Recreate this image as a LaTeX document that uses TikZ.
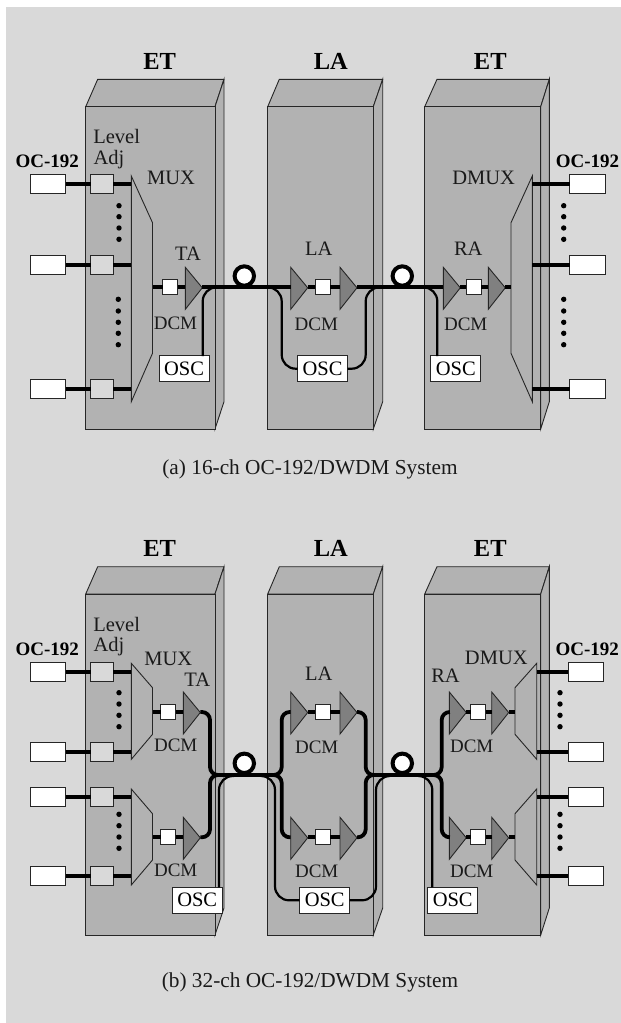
\documentclass[tikz,border=0pt]{standalone}
\usepackage{fontspec}
\setmainfont{Liberation Serif}
\definecolor{bgc}{HTML}{D9D9D9}
\definecolor{boxc}{HTML}{B2B2B2}
\definecolor{ampc}{HTML}{808080}
\definecolor{edgec}{HTML}{262626}
\definecolor{inkc}{HTML}{1A1A1A}
\tikzset{
  outl/.style={draw=edgec,line width=0.9pt,line join=miter},
  cub/.style={outl,fill=boxc},
  ampst/.style={outl,fill=ampc},
  port/.style={outl,fill=white,inner sep=0pt,outer sep=0pt,minimum width=35.4pt,minimum height=19pt},
  lvl/.style={outl,fill=bgc,inner sep=0pt,outer sep=0pt,minimum width=22.6pt,minimum height=19pt},
  dcm/.style={outl,fill=white,inner sep=0pt,outer sep=0pt,minimum width=15pt,minimum height=15pt},
  oscbox/.style={outl,fill=white,inner sep=0pt,outer sep=0pt,minimum width=50pt,minimum height=25.6pt,text=black,font=\fontsize{20.5}{24}\selectfont},
  ringst/.style={circle,draw=black,line width=4pt,fill=white,inner sep=0pt,outer sep=0pt,minimum size=19.4pt},
  sig/.style={line width=3.8pt,draw=black,line cap=butt},
  fib/.style={line width=3.8pt,draw=black,rounded corners=8pt},
  oscl/.style={line width=2.2pt,draw=black,rounded corners=14pt},
  dotst/.style={circle,fill=black,inner sep=0pt,outer sep=0pt,minimum size=5.4pt},
  txt/.style={anchor=base,inner sep=0pt,text=inkc,font=\fontsize{20.5}{24}\selectfont},
  dcmt/.style={anchor=base,inner sep=0pt,text=inkc,font=\fontsize{19}{24}\selectfont},
  head/.style={anchor=base,inner sep=0pt,text=black,font=\bfseries\fontsize{24.5}{28}\selectfont},
  ocl/.style={anchor=base,inner sep=0pt,text=black,font=\bfseries\fontsize{19}{24}\selectfont},
  capt/.style={anchor=base,inner sep=0pt,text=inkc,font=\fontsize{21.3}{26}\selectfont},
}
% name, x-left, y-centre of the triangle; the line runs 1 above the centre
\newcommand{\ampl}[3]{%
  \draw[ampst] (#2,#3-21) -- (#2+17,#3-0.5) -- (#2,#3+21) -- cycle;
  \coordinate (#1-w) at (#2,#3-1);
  \coordinate (#1-e) at (#2+17,#3-1);}
% front left, front right, back left, back right, y back top, y front top, y front bottom, y back bottom
\newcommand{\cuboid}[8]{%
  \draw[cub] (#1,#6) -- (#3,#5) -- (#4,#5) -- (#2,#6) -- cycle;
  \draw[cub] (#2,#6) -- (#4,#5) -- (#4,#8) -- (#2,#7) -- cycle;
  \draw[cub] (#1,#6) rectangle (#2,#7);}
\begin{document}
\begin{tikzpicture}[x=1pt,y=-1pt]
\useasboundingbox (0,0) rectangle (621,1023);
\fill[bgc] (6,7) rectangle (621,1023);

% ========== panel (a) ==========
\cuboid{85.7}{215}{97.7}{224}{79.3}{106.7}{429}{401.7}
\cuboid{267.7}{373.3}{279.3}{382.7}{79.3}{106.7}{429}{401.7}
\cuboid{424.7}{540.7}{437}{549.3}{79.3}{106.7}{429}{401.7}

\node[head] (ah1) at (159.7,69) {ET};
\node[head] (ah2) at (330.8,69) {LA};
\node[head] (ah3) at (490.3,69) {ET};

\node[port] (ap1) at (48,184.2) {};
\node[port] (ap2) at (48,264.7) {};
\node[port] (ap3) at (48,388.8) {};
\node[lvl] (al1) at (102,184.2) {};
\node[lvl] (al2) at (102,264.7) {};
\node[lvl] (al3) at (102,388.8) {};
\draw[outl,fill=boxc] (131.3,176) -- (152.5,222.7) -- (152.5,353.3) -- (131.3,401.7) -- cycle;
\coordinate (am1) at (131.3,184.2);
\coordinate (am2) at (131.3,264.7);
\coordinate (am3) at (131.3,388.8);
\coordinate (amo) at (152.5,287.3);
\foreach \i in {1,2,3} {
  \draw[sig] (ap\i.east) -- (al\i.west);
  \draw[sig] (al\i.east) -- (am\i);
}
\foreach \n/\y in {1/205.7,2/216.7,3/228,4/239.3}
  \node[dotst] (ad\n) at (119,\y) {};
\foreach \n/\y in {5/299.3,6/311,7/322.3,8/333.3,9/344.7}
  \node[dotst] (ad\n) at (118.3,\y) {};

\node[dcm] (ad-t) at (170,287.3) {};
\node[dcm] (ad-l) at (322.5,287.3) {};
\node[dcm] (ad-r) at (473.7,287.3) {};
\ampl{ata}{185.3}{288.3}
\ampl{ala1}{290.7}{288.3}
\ampl{ala2}{340}{288.3}
\ampl{ara1}{443.3}{288.3}
\ampl{ara2}{488.3}{288.3}
\draw[outl,fill=boxc] (532.3,176) -- (511,222.7) -- (511,353.3) -- (532.3,401.7) -- cycle;
\coordinate (aq1) at (532.3,184.2);
\coordinate (aq2) at (532.3,264.7);
\coordinate (aq3) at (532.3,388.8);
\coordinate (aqo) at (511,287.3);
\node[port] (ar1) at (587.5,184.2) {};
\node[port] (ar2) at (587.5,264.7) {};
\node[port] (ar3) at (587.5,388.8) {};
\foreach \i in {1,2,3}
  \draw[sig] (aq\i) -- (ar\i.west);
\foreach \n/\y in {1/205.7,2/216.7,3/228,4/239.3,5/299.3,6/311,7/322.3,8/333.3,9/344.7}
  \node[dotst] (ae\n) at (563.7,\y) {};

\draw[sig] (amo) -- (ad-t.west);
\draw[sig] (ad-t.east) -- (ata-w);
\draw[sig] (ata-e) -- (ala1-w);
\draw[sig] (ala1-e) -- (ad-l.west);
\draw[sig] (ad-l.east) -- (ala2-w);
\draw[sig] (ala2-e) -- (ara1-w);
\draw[sig] (ara1-e) -- (ad-r.west);
\draw[sig] (ad-r.east) -- (ara2-w);
\draw[sig] (ara2-e) -- (aqo);
\node[ringst] (ar-l) at (244.3,276) {};
\node[ringst] (ar-r) at (402.3,276) {};

\node[oscbox] (aos1) at (184,368.7) {OSC};
\node[oscbox] (aos2) at (322.5,368.7) {OSC};
\node[oscbox] (aos3) at (455.8,368.7) {OSC};
\coordinate (aj1) at (218,287.3);
\coordinate (at1) at (202.7,356);
\coordinate (aj2) at (266,287.3);
\coordinate (av2) at (281.7,320);
\coordinate (aj3) at (382,287.3);
\coordinate (av3) at (365.7,320);
\coordinate (aj4) at (423,287.3);
\coordinate (at4) at (437.3,356);
\draw[oscl] (at1) |- (aj1);
\draw[oscl] (aj2) -| (av2) |- (aos2.west);
\draw[oscl] (aos2.east) -| (av3) |- (aj3);
\draw[oscl] (aj4) -| (at4);

\node[txt] (at-lev) at (116.7,143) {Level};
\node[txt,anchor=base west] (at-adj) at (93.3,164) {Adj};
\node[ocl] (at-ocl) at (47.3,167.7) {OC-192};
\node[ocl] (at-ocr) at (587.5,167.7) {OC-192};
\node[txt] (at-mux) at (171,184) {MUX};
\node[txt] (at-dmux) at (483.7,184) {DMUX};
\node[txt] (at-ta) at (188,260) {TA};
\node[txt] (at-la) at (318.7,255) {LA};
\node[txt] (at-ra) at (468.3,255) {RA};
\node[dcmt] (at-d1) at (175.5,329.5) {DCM};
\node[dcmt] (at-d2) at (316.3,330) {DCM};
\node[dcmt] (at-d3) at (465.7,330) {DCM};
\node[capt] (acap) at (310,474.3) {(a) 16-ch OC-192/DWDM System};

% ========== panel (b) ==========
\cuboid{85.7}{215}{97.7}{224}{566.7}{594}{935}{908}
\cuboid{267.7}{373.3}{279.3}{382.7}{566.7}{594}{935}{908}
\cuboid{424.7}{540.7}{437}{549.3}{566.7}{594}{935}{908}

\node[head] (bh1) at (159.7,556.7) {ET};
\node[head] (bh2) at (330.8,556.7) {LA};
\node[head] (bh3) at (490.3,556.7) {ET};

\foreach \i/\y in {1/671.8,2/751.8,3/796.8,4/876.2} {
  \node[port] (bp\i) at (48,\y) {};
  \node[lvl] (bl\i) at (102,\y) {};
  \coordinate (bm\i) at (131.3,\y);
  \node[port] (br\i) at (586,\y) {};
  \coordinate (bq\i) at (536.7,\y);
}
\draw[outl,fill=boxc] (131.3,663.3) -- (152.5,687.7) -- (152.5,734.3) -- (131.3,759.3) -- cycle;
\draw[outl,fill=boxc] (131.3,789) -- (152.5,813.7) -- (152.5,860) -- (131.3,885) -- cycle;
\draw[outl,fill=boxc] (536.7,663.3) -- (515,687.7) -- (515,734.3) -- (536.7,759.3) -- cycle;
\draw[outl,fill=boxc] (536.7,789) -- (515,813.7) -- (515,860) -- (536.7,885) -- cycle;
\foreach \i in {1,2,3,4} {
  \draw[sig] (bp\i.east) -- (bl\i.west);
  \draw[sig] (bl\i.east) -- (bm\i);
  \draw[sig] (bq\i) -- (br\i.west);
}
\foreach \n/\y in {1/692.7,2/704,3/715.3,4/726.7,5/814.3,6/825.7,7/837,8/848.3} {
  \node[dotst] (bd\n) at (119,\y) {};
  \node[dotst] (be\n) at (560,\y) {};
}
\coordinate (bmo1) at (152.5,712);
\coordinate (bmo2) at (152.5,837.3);
\coordinate (bqo1) at (515,712);
\coordinate (bqo2) at (515,837.3);
\foreach \k/\y in {1/712,2/837.3} {
  \node[dcm] (bd-t\k) at (168,\y) {};
  \node[dcm] (bd-l\k) at (322.5,\y) {};
  \node[dcm] (bd-r\k) at (478,\y) {};
  \ampl{bta\k}{183.3}{\y+1}
  \ampl{bla\k}{290.7}{\y+1}
  \ampl{blb\k}{340}{\y+1}
  \ampl{bra\k}{449.3}{\y+1}
  \ampl{brb\k}{491.7}{\y+1}
  \draw[sig] (bmo\k) -- (bd-t\k.west);
  \draw[sig] (bd-t\k.east) -- (bta\k-w);
  \draw[sig] (bla\k-e) -- (bd-l\k.west);
  \draw[sig] (bd-l\k.east) -- (blb\k-w);
  \draw[sig] (bra\k-e) -- (bd-r\k.west);
  \draw[sig] (bd-r\k.east) -- (brb\k-w);
  \draw[sig] (brb\k-e) -- (bqo\k);
}
\coordinate (bc1) at (244,775);
\coordinate (bc2) at (402,775);
% vertical lanes: upper branch and lower branch of each split
\coordinate (bv1u) at (210,743);
\coordinate (bv2u) at (281.7,743);
\coordinate (bv3u) at (365.7,743);
\coordinate (bv4u) at (441.7,743);
\coordinate (bv1d) at (210,806);
\coordinate (bv2d) at (281.7,806);
\coordinate (bv3d) at (365.7,806);
\coordinate (bv4d) at (441.7,806);
\draw[fib] (bta1-e) -| (bv1u) |- (bc1);
\draw[fib] (bta2-e) -| (bv1d) |- (bc1);
\draw[fib] (bla1-w) -| (bv2u) |- (bc1);
\draw[fib] (bla2-w) -| (bv2d) |- (bc1);
\draw[fib] (blb1-e) -| (bv3u) |- (bc2);
\draw[fib] (blb2-e) -| (bv3d) |- (bc2);
\draw[fib] (bra1-w) -| (bv4u) |- (bc2);
\draw[fib] (bra2-w) -| (bv4d) |- (bc2);
\node[ringst] (br-l) at (244.3,763.3) {};
\node[ringst] (br-r) at (402.3,763.3) {};

\node[oscbox] (bos1) at (197.2,900.3) {OSC};
\node[oscbox] (bos2) at (324.7,900.3) {OSC};
\node[oscbox] (bos3) at (452.7,900.3) {OSC};
\coordinate (bj1) at (234,776);
\coordinate (bt1) at (219,887.3);
\coordinate (bj2) at (262,776);
\coordinate (bw2) at (275,830);
\coordinate (bj3) at (390,776);
\coordinate (bw3) at (376,830);
\coordinate (bj4) at (420,776);
\coordinate (bt4) at (432.3,887.3);
\draw[oscl] (bt1) |- (bj1);
\draw[oscl] (bj2) -| (bw2) |- (bos2.west);
\draw[oscl] (bos2.east) -| (bw3) |- (bj3);
\draw[oscl] (bj4) -| (bt4);

\node[txt] (bt-lev) at (116.7,631) {Level};
\node[txt,anchor=base west] (bt-adj) at (93.3,651.7) {Adj};
\node[ocl] (bt-ocl) at (47.3,655) {OC-192};
\node[ocl] (bt-ocr) at (587.3,655) {OC-192};
\node[txt] (bt-mux) at (168.3,665) {MUX};
\node[txt] (bt-dmux) at (496.3,664.3) {DMUX};
\node[txt] (bt-ta) at (197.3,686.7) {TA};
\node[txt] (bt-la) at (318.7,680) {LA};
\node[txt] (bt-ra) at (445.5,682.3) {RA};
\node[dcmt] (bt-d1) at (175.7,751.7) {DCM};
\node[dcmt] (bt-d2) at (175.7,876) {DCM};
\node[dcmt] (bt-d3) at (316.7,753.3) {DCM};
\node[dcmt] (bt-d4) at (316.7,877.7) {DCM};
\node[dcmt] (bt-d5) at (471.7,752.7) {DCM};
\node[dcmt] (bt-d6) at (471.7,877.7) {DCM};
\node[capt] (bcap) at (310,987.7) {(b) 32-ch OC-192/DWDM System};
\end{tikzpicture}
\end{document}
